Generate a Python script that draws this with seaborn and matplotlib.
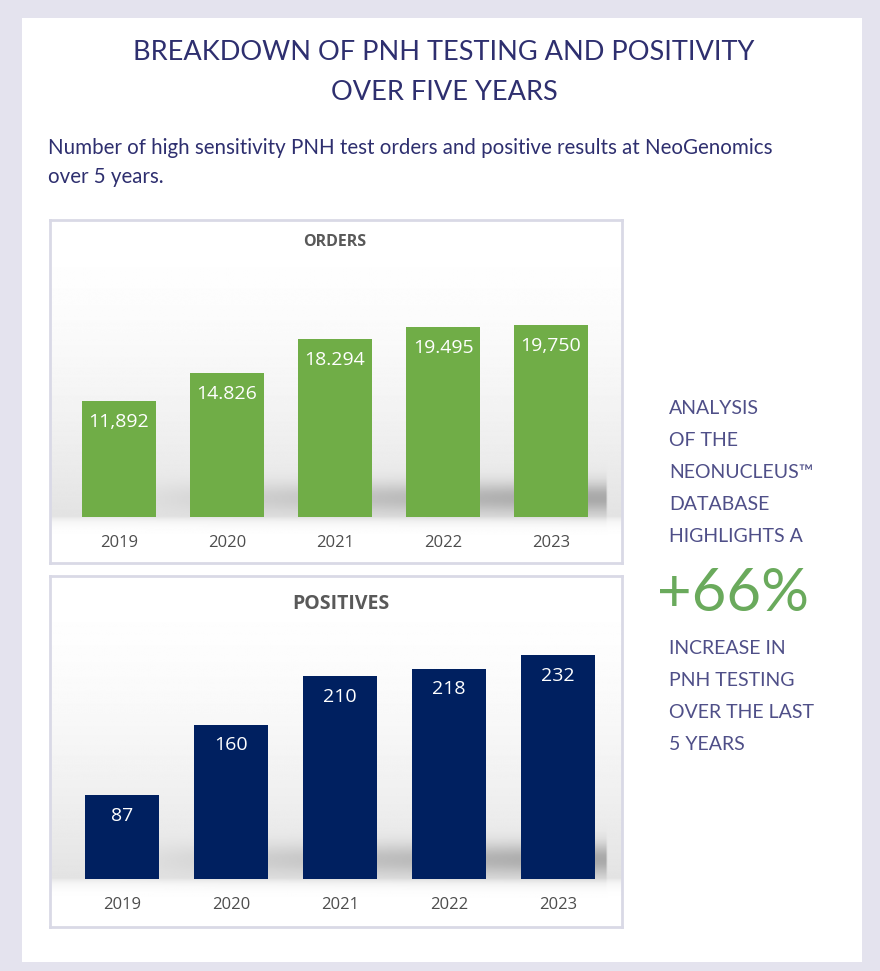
# PNH testing breakdown: orders and positives, 2019-2023

import numpy as np
import pandas as pd
import seaborn as sns
import matplotlib.pyplot as plt
from matplotlib.patches import Rectangle

years = ['2019', '2020', '2021', '2022', '2023']
orders = [11892, 14826, 18294, 19495, 19750]
order_labels = ['11,892', '14.826', '18.294', '19.495', '19,750']
positives = [87, 160, 210, 218, 232]
positive_labels = ['87', '160', '210', '218', '232']

W, H = 880, 971
NAVY = '#2e2f6f'
SIDE = '#4f4f88'
GREEN = '#70ad47'
DARKBLUE = '#002060'


def rect(x, y, w, h):
  # pixel box (top-left origin) -> figure fraction
  return [x / W, 1 - (y + h) / H, w / W, h / H]


def box_bg(ax, base):
  # excel-ish background: white top, light gray floor, soft shadow behind bars
  yy = np.linspace(0, 1, 400)[:, None]
  xx = np.linspace(0, 1, 300)[None, :]
  up = np.clip((yy - base) / (1 - base), 0, 1)
  g = 1 - 0.11 * (1 - up) ** 1.8
  below = np.exp(-np.clip(base - yy, 0, None) / 0.015)
  g = np.where(yy < base, 1 - 0.1 * below, g)
  ramp = np.clip((xx - 0.12) / 0.8, 0, 1) ** 0.8 * (xx < 0.975)
  band = np.exp(-((yy - base - 0.055) / 0.045) ** 2)
  g = g - 0.24 * ramp * band
  ax.imshow(g, cmap='gray', vmin=0, vmax=1, origin='lower',
            extent=[0, 1, 0, 1], aspect='auto', interpolation='bilinear')
  ax.set_xlim(0, 1)
  ax.set_ylim(0, 1)
  ax.set_xticks([])
  ax.set_yticks([])
  for s in ax.spines.values():
    s.set_color('#d9d9e6')
    s.set_linewidth(2)


def bars(ax, values, labels, color, top, width):
  df = pd.DataFrame({'year': years, 'value': values})
  sns.barplot(data=df, x='year', y='value', color=color, width=width,
              saturation=1, linewidth=0, ax=ax)
  ax.set_xlim(-0.5, 4.5)
  ax.set_ylim(0, top)
  ax.set_facecolor('none')
  ax.set_xlabel('')
  ax.set_ylabel('')
  ax.set_yticks([])
  sns.despine(ax=ax, left=True, bottom=True)
  ax.tick_params(axis='x', length=0, pad=13, labelsize=12, labelcolor='#4d4d4d')
  for t in ax.get_xticklabels():
    t.set_fontfamily('Open Sans')
  for i, (v, lab) in enumerate(zip(values, labels)):
    ax.annotate(lab, (i, v), xytext=(0, -15), textcoords='offset points',
                ha='center', va='center', color='white', fontsize=14,
                fontfamily='Open Sans')


sns.set_theme(style='white')
plt.rcParams['font.family'] = ['Lato', 'DejaVu Sans']

fig = plt.figure(figsize=(W / 100, H / 100), dpi=100)
fig.patch.set_facecolor('#e4e3ee')
fig.patches.append(Rectangle((22 / W, 1 - 962 / H), 840 / W, 944 / H,
                             transform=fig.transFigure, facecolor='white',
                             edgecolor='none', zorder=-5))

fig.text(444 / W, 1 - 53 / H, 'BREAKDOWN OF PNH TESTING AND POSITIVITY',
         ha='center', va='center', fontsize=19.5, color=NAVY)
fig.text(444 / W, 1 - 92 / H, 'OVER FIVE YEARS',
         ha='center', va='center', fontsize=19.5, color=NAVY)
fig.text(48 / W, 1 - 148 / H,
         'Number of high sensitivity PNH test orders and positive results at NeoGenomics',
         ha='left', va='center', fontsize=14.8, color=NAVY)
fig.text(48 / W, 1 - 177 / H, 'over 5 years.',
         ha='left', va='center', fontsize=14.8, color=NAVY)

# orders panel
box1 = fig.add_axes(rect(50, 220, 572, 343))
box_bg(box1, 46 / 343)
box1.text(0.497, 1 - 22 / 343, 'ORDERS', transform=box1.transAxes,
          ha='center', va='center', fontsize=11.5, fontweight='bold',
          color='#595959', fontfamily='Open Sans')
ax1 = fig.add_axes(rect(65, 260, 540, 257))
bars(ax1, orders, order_labels, GREEN, 19750 * 257 / 192, 0.69)

# positives panel
box2 = fig.add_axes(rect(50, 576, 572, 351))
box_bg(box2, 48 / 351)
box2.text(0.508, 1 - 28 / 351, 'POSITIVES', transform=box2.transAxes,
          ha='center', va='center', fontsize=14, fontweight='bold',
          color='#595959', fontfamily='Open Sans')
ax2 = fig.add_axes(rect(67.5, 620, 545, 259))
bars(ax2, positives, positive_labels, DARKBLUE, 232 * 259 / 224, 0.67)

# side note
side_top = ['ANALYSIS', 'OF THE', 'NEONUCLEUS\u2122', 'DATABASE', 'HIGHLIGHTS A']
side_bot = ['INCREASE IN', 'PNH TESTING', 'OVER THE LAST', '5 YEARS']
for i, s in enumerate(side_top):
  fig.text(669 / W, 1 - (408 + 32 * i) / H, s, ha='left', va='center',
           fontsize=14, color=SIDE)
fig.text(657 / W, 1 - 594 / H, '+66%', ha='left', va='center',
         fontsize=43, color='#6aaa5c')
for i, s in enumerate(side_bot):
  fig.text(669 / W, 1 - (648 + 32 * i) / H, s, ha='left', va='center',
           fontsize=14, color=SIDE)

fig.savefig('out.png', dpi=100, facecolor=fig.get_facecolor())
